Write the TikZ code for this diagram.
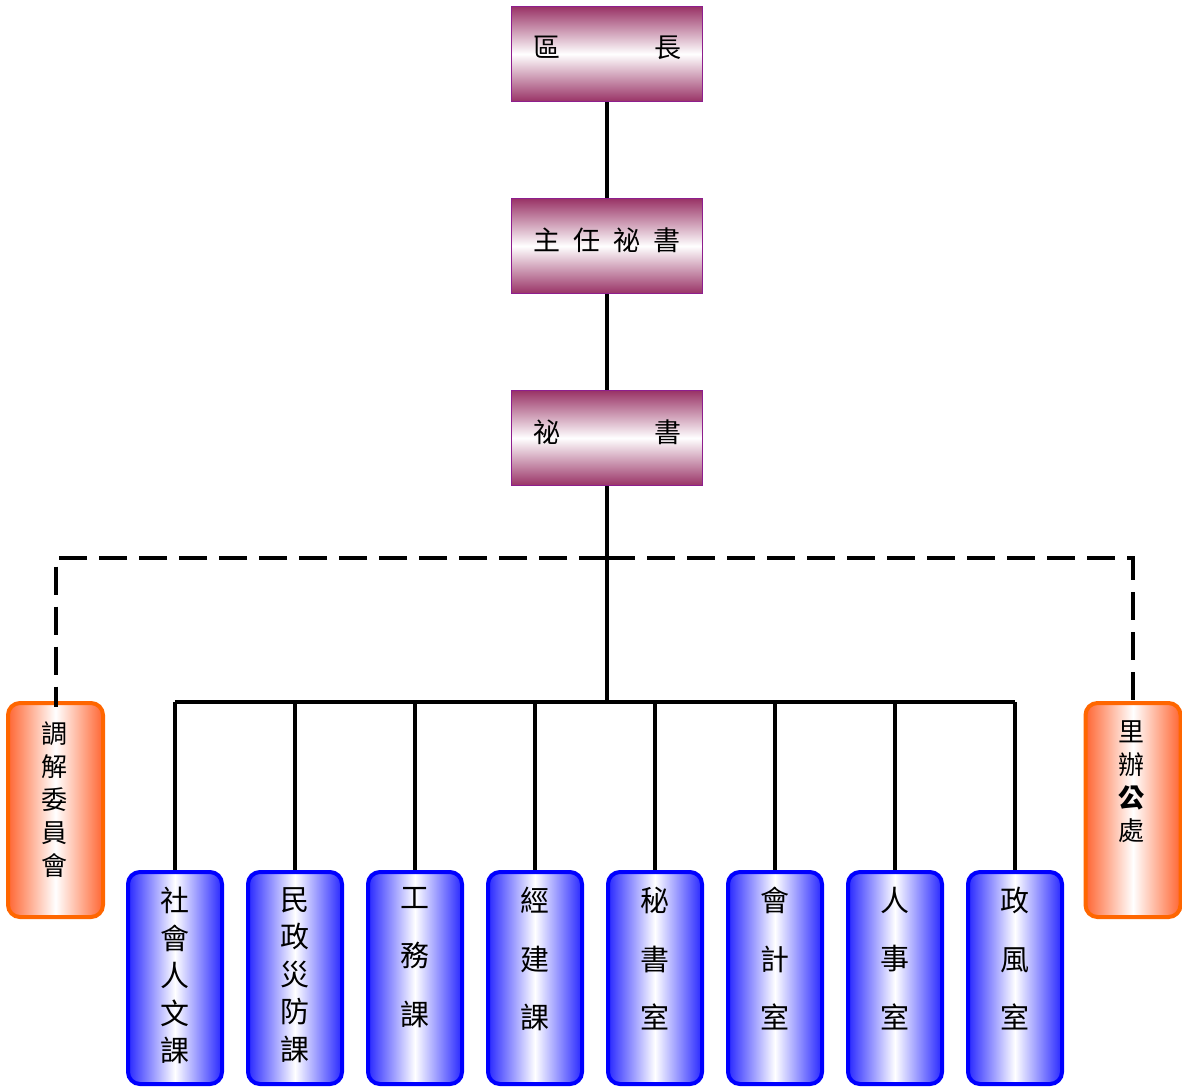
\documentclass[tikz,border=0pt]{standalone}
\usepackage{fontspec}
\newfontfamily\cjk{Noto Sans CJK TC}
\definecolor{mag}{HTML}{993366}
\definecolor{magline}{HTML}{8E1E8E}
\definecolor{bluef}{HTML}{2828FF}
\definecolor{orgf}{HTML}{FF6633}
\definecolor{orgline}{HTML}{FF6600}
\begin{document}
\begin{tikzpicture}[x=1pt,y=-1pt,
  topbox/.style={draw=magline,line width=1.6pt,minimum width=191pt,minimum height=95pt,inner sep=0pt,
    top color=mag,bottom color=mag,middle color=white},
  bluebox/.style={draw=blue,line width=4pt,rounded corners=12pt,minimum width=94pt,minimum height=212pt,inner sep=0pt,
    left color=bluef,right color=bluef,middle color=white},
  orgbox/.style={draw=orgline,line width=4pt,rounded corners=12pt,minimum width=95pt,minimum height=214pt,inner sep=0pt,
    left color=orgf,right color=orgf,middle color=white},
  conn/.style={line width=4pt},
  dsh/.style={line width=4pt,dash pattern=on 28pt off 12pt},
  toptxt/.style={font=\cjk\fontsize{27}{32}\selectfont,inner sep=0pt},
  vtxt/.style={align=center,inner sep=0pt,anchor=north}
]
\useasboundingbox (0,0) rectangle (1182,1088);
% top boxes
\node[topbox] (a) at (607,54) {};
\node[topbox] (b) at (607,246) {};
\node[topbox] (c) at (607,438) {};
\node[toptxt] (ta) at (607,48) {區\hspace{94pt}長};
\node[toptxt] (tb) at (607,240) {主\hspace{13pt}任\hspace{13pt}祕\hspace{13pt}書};
\node[toptxt] (tc) at (607,432) {祕\hspace{94pt}書};
% coordinates
\coordinate (dj) at (607,558);
\coordinate (hj) at (607,702);
\coordinate (hl) at (175,702);
\coordinate (hr) at (1015,702);
% blue boxes
\foreach \i/\x in {1/175,2/295,3/415,4/535,5/655,6/775,7/895,8/1015}{
  \node[bluebox] (u\i) at (\x,978) {};
}
% orange boxes
\node[orgbox] (o1) at (55.5,810) {};
\node[orgbox] (o2) at (1133,810) {};
% connectors
\draw[conn] (a.south) -- (b.north);
\draw[conn] (b.south) -- (c.north);
\draw[conn] (c.south) -- (hj);
\draw[conn] (hl) -- (hr);
\foreach \i in {1,...,8}{
  \draw[conn] (u\i.north |- hl) -- (u\i.north);
}
\draw[dsh] (dj) -- (o1.north |- dj) -- ([yshift=-6pt]o1.north);
\draw[dsh] (dj) -- (o2.north |- dj) -- ([yshift=-6pt]o2.north);
% texts in blue boxes
\node[vtxt,font=\cjk\fontsize{29}{37.5}\selectfont] (v1) at (175,887) {社\\會\\人\\文\\課};
\node[vtxt,font=\cjk\fontsize{29}{37.5}\selectfont] (v2) at (295,887) {民\\政\\災\\防\\課};
\node[vtxt,font=\cjk\fontsize{29}{58.5}\selectfont] (v3) at (415,887) {工\\務\\課};
\node[vtxt,font=\cjk\fontsize{29}{58.5}\selectfont] (v4) at (535,887) {經\\建\\課};
\node[vtxt,font=\cjk\fontsize{29}{58.5}\selectfont] (v5) at (655,887) {秘\\書\\室};
\node[vtxt,font=\cjk\fontsize{29}{58.5}\selectfont] (v6) at (775,887) {會\\計\\室};
\node[vtxt,font=\cjk\fontsize{29}{58.5}\selectfont] (v7) at (895,887) {人\\事\\室};
\node[vtxt,font=\cjk\fontsize{29}{58.5}\selectfont] (v8) at (1015,887) {政\\風\\室};
% texts in orange boxes
\node[vtxt,font=\cjk\fontsize{26}{33}\selectfont] (w1) at (54,721) {調\\解\\委\\員\\會};
\node[vtxt,font=\cjk\fontsize{26}{33}\selectfont] (w2) at (1131,720) {里\\辦\\{\bfseries 公}\\處};
\end{tikzpicture}
\end{document}
